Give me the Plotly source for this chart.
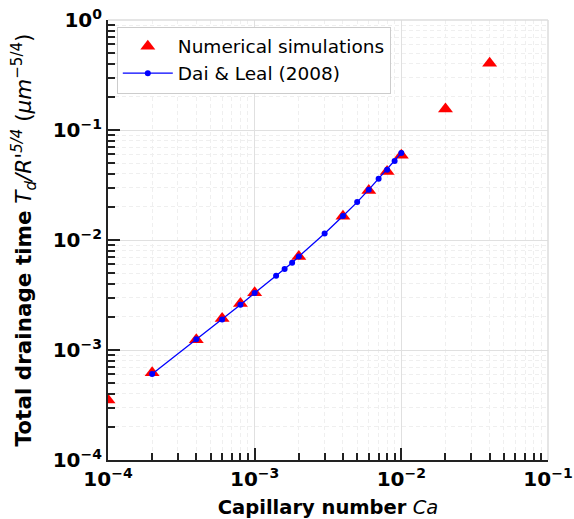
import plotly.graph_objects as go

# Numerical simulations
sim_ca = [1e-4, 2e-4, 4e-4, 6e-4, 8e-4, 1e-3, 2e-3, 4e-3, 6e-3, 8e-3, 1e-2, 2e-2, 4e-2]
sim_td = [3.52e-4, 6.2e-4, 1.24e-3, 1.93e-3, 2.64e-3, 3.32e-3, 7.08e-3, 1.64e-2, 2.82e-2, 4.2e-2, 5.9e-2, 0.155, 0.405]

# Dai & Leal (2008)
dl_ca = [2e-4, 4e-4, 6e-4, 8e-4, 1e-3, 1.4e-3, 1.6e-3, 1.8e-3, 2e-3, 3e-3, 4e-3, 5e-3, 6e-3, 7e-3, 8e-3, 9e-3, 1e-2]
dl_td = [6.04e-4, 1.25e-3, 1.89e-3, 2.58e-3, 3.3e-3, 4.72e-3, 5.46e-3, 6.2e-3, 7.08e-3, 1.146e-2, 1.65e-2, 2.21e-2, 2.87e-2, 3.6e-2, 4.36e-2, 5.22e-2, 6.18e-2]

x_ticks = [1e-4, 1e-3, 1e-2, 1e-1]
x_ticktext = ["<b>10<sup>−4</sup></b>", "<b>10<sup>−3</sup></b>", "<b>10<sup>−2</sup></b>", "<b>10<sup>−1</sup></b>"]
y_ticks = [1e-4, 1e-3, 1e-2, 1e-1, 1e0]
y_ticktext = ["<b>10<sup>−4</sup></b>", "<b>10<sup>−3</sup></b>", "<b>10<sup>−2</sup></b>", "<b>10<sup>−1</sup></b>", "<b>10<sup>0</sup></b>"]

x_minor = [m * 10 ** e for e in (-4, -3, -2) for m in range(2, 10)]
y_minor = [m * 10 ** e for e in (-4, -3, -2, -1) for m in range(2, 10)]

FONT = "DejaVu Sans"

fig = go.Figure()
fig.add_trace(go.Scatter(
    x=sim_ca, y=sim_td, mode="markers", name="Numerical simulations",
    legendgroup="a",
    marker=dict(symbol="triangle-up", size=13, color="red", line=dict(width=0)),
))
fig.add_trace(go.Scatter(
    x=dl_ca, y=dl_td, mode="lines+markers", name="Dai & Leal (2008)",
    legendgroup="b",
    line=dict(color="blue", width=1.3),
    marker=dict(symbol="circle", size=6, color="blue"),
))

axis_common = dict(
    type="log",
    automargin=False,
    showline=True, linecolor="#222222", linewidth=2,
    ticks="inside", ticklen=12, tickwidth=2, tickcolor="#222222",
    showgrid=True, gridcolor="#e0e0e0", gridwidth=1,
    zeroline=False,
    tickfont=dict(family=FONT, size=20, color="black"),
)

minor_common = dict(tickmode="array", ticks="inside", ticklen=7, tickwidth=1.5,
                    tickcolor="#222222", showgrid=True, gridcolor="#efefef",
                    griddash="4px,3px", gridwidth=1)

fig.update_xaxes(
    **axis_common,
    range=[-4, -1],
    tickmode="array", tickvals=x_ticks, ticktext=x_ticktext,
    minor=dict(tickvals=x_minor, **minor_common),
    title=dict(text="<b>Capillary number</b> <i>Ca</i>", font=dict(family=FONT, size=19.5, color="black"), standoff=11),
)
fig.update_yaxes(
    **axis_common,
    range=[-4, 0],
    tickmode="array", tickvals=y_ticks, ticktext=y_ticktext,
    minor=dict(tickvals=y_minor, **minor_common),
    title=dict(text="<b>Total drainage time</b> <i>T<sub>d</sub>/R'<sup>5/4</sup></i> (<i>μm</i><sup>−5/4</sup>)",
               font=dict(family=FONT, size=21.5, color="black"), standoff=15),
)

fig.update_layout(
    width=574, height=519,
    margin=dict(l=108, r=26, t=20, b=59),
    paper_bgcolor="white", plot_bgcolor="white",
    font=dict(family=FONT, size=18, color="black"),
    showlegend=True,
    legend=dict(x=0.02, y=0.985, xanchor="left", yanchor="top",
                bgcolor="white", bordercolor="#cccccc", borderwidth=1,
                itemwidth=50, tracegroupgap=3, traceorder="normal",
                font=dict(family=FONT, size=18.5, color="black")),
    shapes=[
        dict(type="line", xref="paper", yref="paper", x0=0, x1=1, y0=1, y1=1,
             line=dict(color="#dcdcdc", width=1.5)),
        dict(type="line", xref="paper", yref="paper", x0=1, x1=1, y0=0, y1=1,
             line=dict(color="#dcdcdc", width=1.5)),
    ],
)

fig.write_html("out.html")
